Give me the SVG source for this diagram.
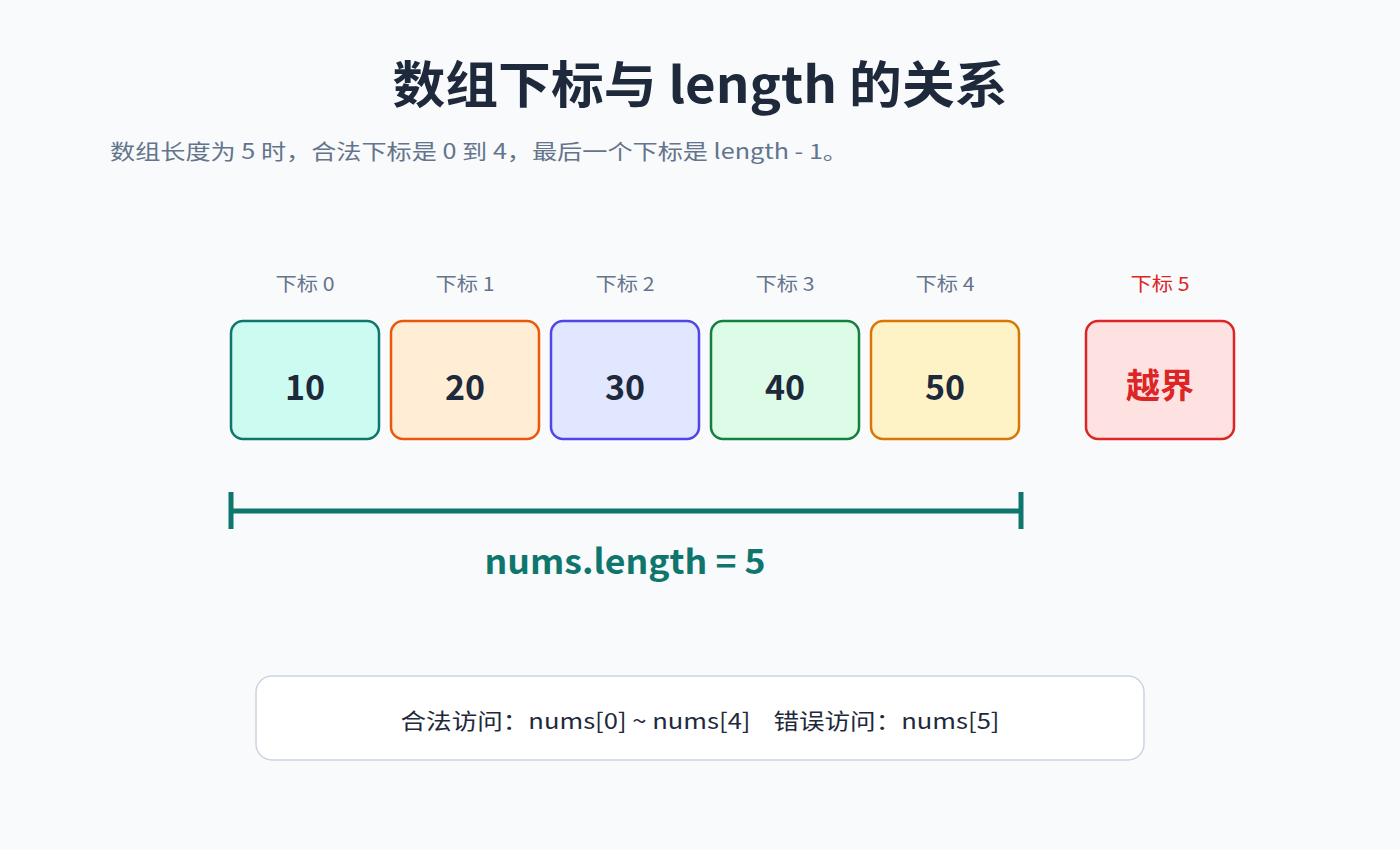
<svg xmlns="http://www.w3.org/2000/svg" width="1400" height="850" viewBox="0 0 1400 850">
<style>
text{font-family:"Noto Sans CJK SC","Noto Sans",sans-serif}
.title{font-size:50px;font-weight:700;fill:#1e293b;text-anchor:middle}
.sub{font-size:21px;fill:#64748b}
.idx{font-size:19px;fill:#64748b;text-anchor:middle}
.val{font-size:34px;font-weight:700;fill:#1e293b;text-anchor:middle}
.cell{stroke-width:2.5}
.len{font-size:34px;font-weight:700;fill:#0f766e;text-anchor:middle}
.note{font-size:22px;fill:#1e293b;text-anchor:middle;white-space:pre}
</style>
<rect width="1400" height="850" fill="#f8fafc"/>
<text class="title" x="700" y="103" textLength="615" lengthAdjust="spacingAndGlyphs">数组下标与 length 的关系</text>
<text class="sub" x="110" y="159" textLength="738" lengthAdjust="spacingAndGlyphs">数组长度为 5 时，合法下标是 0 到 4，最后一个下标是 length - 1。</text>
<g id="cell0">
<text class="idx" x="305" y="291" textLength="59" lengthAdjust="spacingAndGlyphs">下标 0</text>
<rect class="cell" x="231" y="321" width="148" height="118" rx="12" fill="#ccfbf1" stroke="#0f766e"/>
<text class="val" x="305" y="400">10</text>
</g>
<g id="cell1">
<text class="idx" x="465" y="291" textLength="59" lengthAdjust="spacingAndGlyphs">下标 1</text>
<rect class="cell" x="391" y="321" width="148" height="118" rx="12" fill="#ffedd5" stroke="#ea580c"/>
<text class="val" x="465" y="400">20</text>
</g>
<g id="cell2">
<text class="idx" x="625" y="291" textLength="59" lengthAdjust="spacingAndGlyphs">下标 2</text>
<rect class="cell" x="551" y="321" width="148" height="118" rx="12" fill="#e0e7ff" stroke="#4f46e5"/>
<text class="val" x="625" y="400">30</text>
</g>
<g id="cell3">
<text class="idx" x="785" y="291" textLength="59" lengthAdjust="spacingAndGlyphs">下标 3</text>
<rect class="cell" x="711" y="321" width="148" height="118" rx="12" fill="#dcfce7" stroke="#15803d"/>
<text class="val" x="785" y="400">40</text>
</g>
<g id="cell4">
<text class="idx" x="945" y="291" textLength="59" lengthAdjust="spacingAndGlyphs">下标 4</text>
<rect class="cell" x="871" y="321" width="148" height="118" rx="12" fill="#fef3c7" stroke="#d97706"/>
<text class="val" x="945" y="400">50</text>
</g>
<g id="cell5">
<text class="idx" x="1160" y="291" textLength="59" lengthAdjust="spacingAndGlyphs" style="fill:#dc2626">下标 5</text>
<rect class="cell" x="1086" y="321" width="148" height="118" rx="12" fill="#fee2e2" stroke="#dc2626"/>
<text class="val" x="1160" y="398" style="fill:#dc2626">越界</text>
</g>
<g id="connectors" stroke="#0f766e" stroke-width="5" fill="none">
<line x1="231" y1="511" x2="1021" y2="511"/>
<line x1="231" y1="492" x2="231" y2="529"/>
<line x1="1021" y1="492" x2="1021" y2="529"/>
</g>
<text class="len" x="625" y="574" textLength="281" lengthAdjust="spacingAndGlyphs">nums.length = 5</text>
<g id="note">
<rect x="256" y="676" width="888" height="84" rx="16" fill="#ffffff" stroke="#cbd5e1" stroke-width="1.5"/>
<text class="note" x="700" y="729" textLength="599" lengthAdjust="spacingAndGlyphs" xml:space="preserve">合法访问：nums[0] ~ nums[4]    错误访问：nums[5]</text>
</g>
</svg>
